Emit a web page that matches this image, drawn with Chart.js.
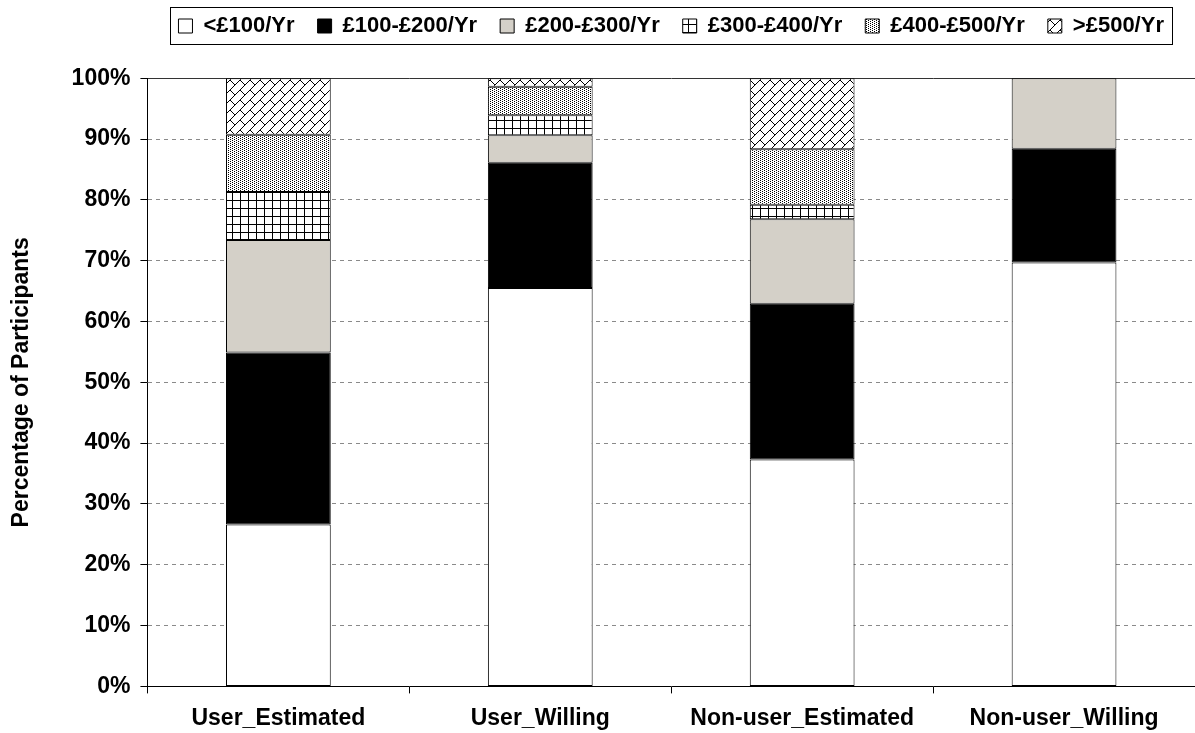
<!DOCTYPE html>
<html>
<head>
<meta charset="utf-8">
<script src="https://cdn.jsdelivr.net/npm/chart.js@4"></script>
<style>
  html, body { margin: 0; padding: 0; background: #ffffff; }
  #wrap { width: 1195px; height: 733px; }
</style>
</head>
<body>
<div id="wrap"><canvas id="c" width="1195" height="733"></canvas></div>
<script>
// ---- data ----
const categories = ['User_Estimated', 'User_Willing', 'Non-user_Estimated', 'Non-user_Willing'];
const seriesLabels = ['<£100/Yr', '£100-£200/Yr', '£200-£300/Yr', '£300-£400/Yr', '£400-£500/Yr', '>£500/Yr'];
const under100   = [26.6, 65.5, 37.3, 69.7];
const from100to200 = [28.3, 20.6, 25.6, 18.7];
const from200to300 = [18.5, 4.5, 13.9, 11.6];
const from300to400 = [7.9, 3.3, 2.4, 0];
const from400to500 = [9.4, 4.7, 9.1, 0];
const over500    = [9.3, 1.4, 11.7, 0];
const yTicks = [0, 10, 20, 30, 40, 50, 60, 70, 80, 90, 100];

const FONT = "'Liberation Sans', Arial, sans-serif";

// ---- fill patterns ----
function makeTile(w, h, draw) {
  const c = document.createElement('canvas');
  c.width = w; c.height = h;
  const g = c.getContext('2d');
  g.fillStyle = '#ffffff';
  g.fillRect(0, 0, w, h);
  draw(g, w, h);
  return document.createElement('canvas').getContext('2d').createPattern(c, 'repeat');
}
const brickPattern = makeTile(10, 10, (g, s) => {
  g.strokeStyle = '#000'; g.lineWidth = 1;
  g.beginPath();
  g.moveTo(-1, s + 1); g.lineTo(s + 1, -1);
  g.moveTo(-1, 1); g.lineTo(1, -1);
  g.moveTo(s - 1, s + 1); g.lineTo(s + 1, s - 1);
  g.moveTo(0, 0); g.lineTo(s / 2, s / 2);
  g.stroke();
});
const dotPattern = makeTile(4, 2, (g) => {
  g.fillStyle = '#000';
  g.fillRect(0, 0, 1, 1);
  g.fillRect(2, 1, 1, 1);
});
const gridPattern = makeTile(8, 8, (g, s) => {
  g.fillStyle = '#000';
  g.fillRect(0, 0, s, 1);
  g.fillRect(0, 0, 1, s);
});

const fills = ['#ffffff', '#000000', '#d4d0c8', gridPattern, dotPattern, brickPattern];
const values = [under100, from100to200, from200to300, from300to400, from400to500, over500];

const datasets = seriesLabels.map((lab, i) => ({
  label: lab,
  data: values[i],
  backgroundColor: fills[i],
  borderColor: '#000000',
  borderWidth: 1,
  borderSkipped: false,
  barPercentage: 1,
  categoryPercentage: 0.4
}));

const legendFrame = {
  id: 'legendFrame',
  afterDraw(chart) {
    const lg = chart.legend;
    if (!lg || !lg.legendHitBoxes || !lg.legendHitBoxes.length) return;
    const hb = lg.legendHitBoxes;
    let minX = Infinity, maxX = -Infinity, top = Infinity;
    hb.forEach(b => { minX = Math.min(minX, b.left); maxX = Math.max(maxX, b.left + b.width); top = Math.min(top, b.top); });
    const ctx = chart.ctx;
    ctx.save();
    ctx.strokeStyle = '#000';
    ctx.lineWidth = 1;
    ctx.strokeRect(Math.round(minX - 8) + 0.5, Math.round(top - 8) + 0.5, Math.round(maxX - minX + 16), 37);
    ctx.restore();
  }
};

new Chart(document.getElementById('c'), {
  type: 'bar',
  data: { labels: categories, datasets },
  plugins: [legendFrame],
  options: {
    responsive: false,
    animation: false,
    layout: { padding: { top: -8, left: 0, right: 0, bottom: -10 } },
    plugins: {
      legend: {
        position: 'top',
        fullSize: false,
        labels: {
          color: '#000',
          font: { family: FONT, size: 22, weight: 'bold' },
          boxWidth: 14,
          boxHeight: 14,
          padding: 23
        }
      },
      title: {
        display: true,
        text: '',
        position: 'top',
        weight: 900,
        font: { size: 1 },
        padding: { top: 30, bottom: 0 }
      },
      tooltip: { enabled: false }
    },
    scales: {
      x: {
        stacked: true,
        offset: true,
        border: { display: true, color: '#000', width: 1 },
        grid: {
          offset: true,
          drawOnChartArea: false,
          drawTicks: true,
          tickLength: 7,
          color: '#000'
        },
        ticks: {
          color: '#000',
          padding: 11,
          font: { family: FONT, size: 23, weight: 'bold' }
        }
      },
      y: {
        stacked: true,
        min: 0,
        max: 100,
        afterBuildTicks(scale) { scale.ticks = yTicks.map(v => ({ value: v })); },
        border: {
          display: true, color: '#000', width: 1,
          dash: c => (c.type === 'tick' && c.tick && c.tick.value < 100) ? [4, 4] : []
        },
        grid: {
          drawTicks: true,
          tickLength: 7,
          tickColor: '#000',
          lineWidth: 1,
          color: c => {
            if (!c.tick) return '#888';
            if (c.tick.value === 0) return 'rgba(0,0,0,0)';
            if (c.tick.value === 100) return '#333';
            return '#8a8a8a';
          }
        },
        ticks: {
          color: '#000',
          padding: 10,
          font: { family: FONT, size: 23, weight: 'bold' },
          callback: v => v + '%'
        },
        title: {
          display: true,
          text: 'Percentage of Participants',
          color: '#000',
          font: { family: FONT, size: 23, weight: 'bold' },
          padding: { top: 8, bottom: 26 }
        }
      }
    }
  }
});
</script>
</body>
</html>
